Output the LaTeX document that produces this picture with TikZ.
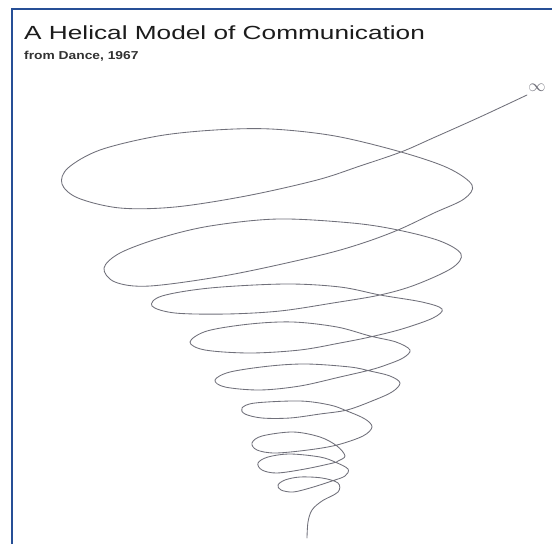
\documentclass[tikz,border=0pt]{standalone}
\usepackage{fontspec}
\setmainfont{Liberation Sans}
\usepackage{tikz}
\usetikzlibrary{positioning}
\definecolor{framebl}{RGB}{38,79,150}
\definecolor{titlegray}{RGB}{28,28,28}
\definecolor{subgray}{RGB}{50,50,50}
\definecolor{helixgray}{RGB}{112,112,122}
\tikzset{
  frameline/.style={draw=framebl, line width=2.5pt},
  titletext/.style={
    anchor=base west, inner sep=0pt, text=titlegray,
    font=\fontsize{19}{22}\selectfont
  },
  subtext/.style={
    inner sep=0pt, text=subgray,
    font=\bfseries\fontsize{11.5}{14}\selectfont
  },
  helix/.style={draw=helixgray, line width=0.85pt, line join=round, line cap=round},
  infmark/.style={inner sep=0pt, text=helixgray, font=\fontsize{16}{16}\selectfont}
}

\begin{document}
\begin{tikzpicture}[x=1pt, y=-1pt]
  \useasboundingbox (0,0) rectangle (552,544);
  \fill[white] (0,0) rectangle (552,544);
  \draw[frameline] (12,544) -- (12,9) -- (552,9);

  \node[titletext] (title) at (24,39) {\scalebox{1.38}[1]{A Helical Model of Communication}};
  \node[subtext, below=20pt of title.base west, anchor=base west] (subtitle) {\scalebox{1.2}[1]{from Dance, 1967}};
  \node[infmark] (inf) at (537,88) {$\infty$};

  % the spiral, from the infinity mark down to its start
  \draw[helix] plot[smooth, tension=0.55] coordinates {
    (527,95) (480,117) (433,138) (401,152) (360,166) (317,180) (246,196) (175,207)
    (120,208) (78,198) (62,184) (68,168) (100,150) (158,136) (215,130) (271,129)
    (335,136) (401,152) (448,168) (472,185) (464,199) (434,213) (398,230)
    (360,244) (317,256) (229,275) (150,286) (115,282) (104,268) (120,253) (160,238)
    (210,226) (278,219) (352,223) (398,230) (440,241) (461,254) (452,268) (415,285) (380,295)
    (333,303) (280,311) (227,314) (175,313) (152,306) (162,296) (210,288) (285,284)
    (340,287) (380,295) (422,302) (442,309) (433,318) (402,329) (370,337)
    (340,343) (300,350) (250,353) (205,350) (190,342) (207,331) (250,324) (293,322)
    (337,327) (370,336) (396,342) (410,350) (403,358) (386,365) (370,370)
    (340,377) (300,386) (260,390) (225,387) (215,380) (230,372) (270,366) (307,364)
    (350,367) (370,371) (390,376) (400,383) (392,392) (372,401) (347,410)
    (320,414) (290,418) (262,418) (245,414) (242,408) (255,403) (300,401) (330,405)
    (347,411) (365,419) (372,427) (363,436) (337,445)
    (308,450) (275,453) (257,450) (252,443) (262,436) (293,432) (320,437) (337,446)
    (345,456) (338,461) (333,463)
    (305,469) (277,473) (262,470) (258,463) (268,457) (290,454) (320,457) (335,462)
    (348,469) (345,476) (332,481)
    (310,488) (293,492) (281,490) (278,485) (285,480) (300,477) (322,478) (338,483)
    (338,492) (322,501) (312,510) (308,522) (307,538)
  };
\end{tikzpicture}
\end{document}
